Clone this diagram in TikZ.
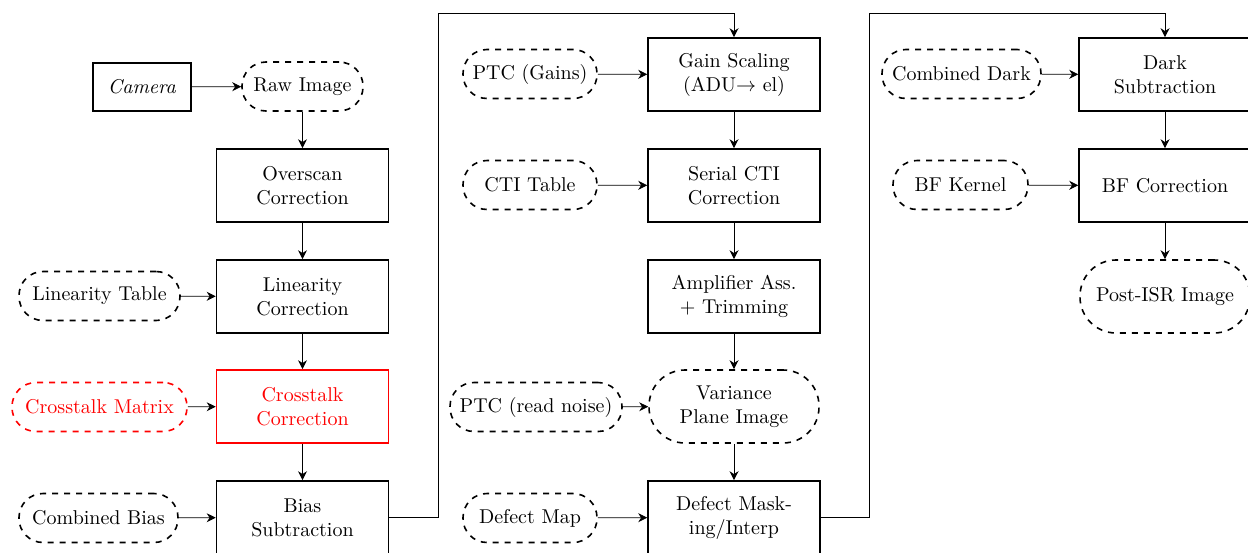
\documentclass[tikz,border=0pt]{standalone}
\usetikzlibrary{arrows.meta}
\begin{document}
\begin{tikzpicture}[x=0.5pt,y=-0.5pt,
  proc/.style={draw, thick, rectangle, minimum width=86pt, minimum height=36.5pt, align=center, inner sep=2pt},
  data/.style={draw, thick, dashed, rounded corners=12pt, minimum height=24.5pt, align=center, inner sep=2pt},
  bigdata/.style={data, minimum width=85pt, minimum height=36.5pt, rounded corners=18pt},
  arr/.style={-{Stealth[length=4.5pt,width=4.5pt]}}]
\useasboundingbox (0,0) rectangle (1248,552);
\clip (0,0) rectangle (1248,552);

% column 1
\node[draw, thick, minimum width=49pt, minimum height=24pt] (cam) at (142,87) {\textit{Camera}};
\node[data, minimum width=60.5pt] (raw) at (302.5,86.5) {Raw Image};
\node[proc] (over) at (302.5,185.5) {Overscan\\Correction};
\node[proc] (lin) at (302.5,296.5) {Linearity\\Correction};
\node[proc, draw=red, text=red] (xt) at (302.5,406.5) {Crosstalk\\Correction};
\node[proc] (bias) at (302.5,517.5) {Bias\\Subtraction};
\node[data, minimum width=80.5pt] (lint) at (99.5,296) {Linearity Table};
\node[data, minimum width=87.5pt, draw=red, text=red] (xtm) at (99.5,407) {Crosstalk Matrix};
\node[data, minimum width=79.5pt] (cbias) at (98.5,518) {Combined Bias};

% column 2
\node[proc] (gain) at (734,74.5) {Gain Scaling\\(ADU$\rightarrow$ el)};
\node[proc] (cti) at (734,185.5) {Serial CTI\\Correction};
\node[proc] (amp) at (734,296.5) {Amplifier Ass.\\+ Trimming};
\node[bigdata] (var) at (734,406.5) {Variance\\Plane Image};
\node[proc] (def) at (734,517.5) {Defect Mask-\\ing/Interp};
\node[data, minimum width=67pt] (ptcg) at (530,74) {PTC (Gains)};
\node[data, minimum width=67pt] (ctit) at (530,185) {CTI Table};
\node[data, minimum width=86pt] (ptcr) at (536,407) {PTC (read noise)};
\node[data, minimum width=67pt] (dmap) at (530,518) {Defect Map};

% column 3
\node[proc] (dark) at (1165,74.5) {Dark\\Subtraction};
\node[proc] (bf) at (1165,185.5) {BF Correction};
\node[bigdata] (post) at (1165,296.5) {Post-ISR Image};
\node[data, minimum width=79.5pt] (cdark) at (961.5,74) {Combined Dark};
\node[data, minimum width=67.5pt] (bfk) at (960.5,185) {BF Kernel};

\coordinate (j1) at (438,13);
\coordinate (j2) at (869,13);

% connectors
\draw[arr] (cam) -- (raw);
\draw[arr] (raw) -- (over);
\draw[arr] (over) -- (lin);
\draw[arr] (lin) -- (xt);
\draw[arr] (xt) -- (bias);
\draw[arr] (lint) -- (lin);
\draw[arr] (xtm) -- (xt);
\draw[arr] (cbias) -- (bias);
\draw[arr] (bias.east) -| (j1) -| (gain.north);

\draw[arr] (ptcg) -- (gain);
\draw[arr] (gain) -- (cti);
\draw[arr] (ctit) -- (cti);
\draw[arr] (cti) -- (amp);
\draw[arr] (amp) -- (var);
\draw[arr] (ptcr) -- (var);
\draw[arr] (var) -- (def);
\draw[arr] (dmap) -- (def);
\draw[arr] (def.east) -| (j2) -| (dark.north);

\draw[arr] (cdark) -- (dark);
\draw[arr] (dark) -- (bf);
\draw[arr] (bfk) -- (bf);
\draw[arr] (bf) -- (post);
\end{tikzpicture}
\end{document}
